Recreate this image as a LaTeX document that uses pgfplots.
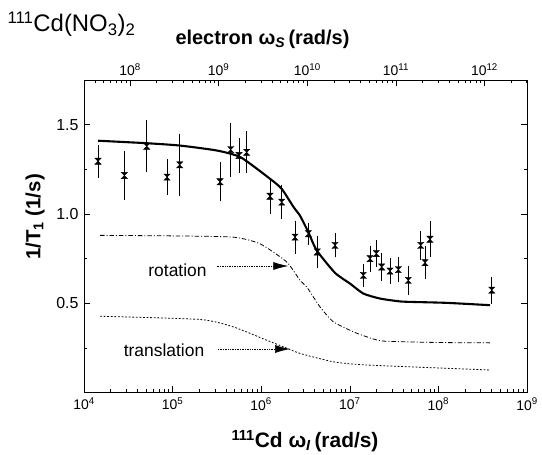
\documentclass[border=0pt]{standalone}
\usepackage{fontspec}
\setmainfont{Liberation Sans}
\usepackage{pgfplots}
\usepackage{pgfplotstable}
\pgfplotsset{compat=1.18}
\usetikzlibrary{arrows.meta}
\pgfdeclareplotmark{hg}{%
 \pgfpathmoveto{\pgfqpoint{-\pgfplotmarksize}{\pgfplotmarksize}}%
 \pgfpathlineto{\pgfqpoint{\pgfplotmarksize}{\pgfplotmarksize}}%
 \pgfpathlineto{\pgfqpoint{-\pgfplotmarksize}{-\pgfplotmarksize}}%
 \pgfpathlineto{\pgfqpoint{\pgfplotmarksize}{-\pgfplotmarksize}}%
 \pgfpathclose\pgfusepathqfillstroke}

\pgfplotstableread{
x y e
14390 1.295 0.075
28510 1.215 0.12
51050 1.379 0.128
86500 1.206 0.083
120200 1.275 0.157
342800 1.180 0.093
452900 1.360 0.135
561000 1.327 0.080
685500 1.345 0.100
1256000 1.099 0.080
1702000 1.066 0.080
2404000 0.870 0.075
3404000 0.889 0.045
4295000 0.787 0.073
6808000 0.824 0.050
14220000 0.656 0.047
16900000 0.750 0.056
19910000 0.778 0.060
22910000 0.703 0.063
28440000 0.680 0.056
35320000 0.688 0.054
45710000 0.628 0.065
63100000 0.824 0.063
70630000 0.727 0.075
80350000 0.858 0.084
400000000 0.573 0.058
}\pts

\begin{document}
\begin{tikzpicture}
\path[use as bounding box] (-84bp,-62.5bp) rectangle (458bp,392.5bp);
\begin{axis}[at={(0,0)}, anchor=south west, scale only axis,
  width=443bp, height=312.5bp,
  xmode=log, xmin=1e4, xmax=1e9, ymin=0, ymax=1.75,
  xtick={1e4,1e5,1e6,1e7,1e8,1e9},
  xticklabels={10\textsuperscript{4},10\textsuperscript{5},10\textsuperscript{6},10\textsuperscript{7},10\textsuperscript{8},10\textsuperscript{9}},
  minor xtick={2e4,3e4,4e4,5e4,6e4,7e4,8e4,9e4,2e5,3e5,4e5,5e5,6e5,7e5,8e5,9e5,2e6,3e6,4e6,5e6,6e6,7e6,8e6,9e6,2e7,3e7,4e7,5e7,6e7,7e7,8e7,9e7,2e8,3e8,4e8,5e8,6e8,7e8,8e8,9e8},
  xtick pos=bottom, ytick pos=both,
  ytick={0.5,1,1.5}, yticklabels={0.5,1.0,1.5},
  minor ytick={0.25,0.75,1.25},
  tick align=inside, major tick length=6bp, minor tick length=3bp,
  every tick/.style={black, line width=0.6pt},
  axis line style={line width=0.9pt},
  xticklabel style={font=\fontsize{14}{14}\selectfont, yshift=-2bp},
  yticklabel style={font=\fontsize{16}{16}\selectfont, xshift=-2bp},
  clip=false,
]
\addplot[black, line width=2.1pt, smooth, tension=0.35] coordinates {
(14390,1.41) (51050,1.396) (120230,1.383) (316980,1.355) (587480,1.317)
(1256000,1.197) (1702000,1.141) (2307000,1.04) (2742000,0.99) (3404000,0.898)
(4227000,0.796) (6808000,0.67) (10050000,0.61) (14220000,0.554) (21930000,0.526)
(36900000,0.51) (52120000,0.507) (123900000,0.502) (381900000,0.489)};
\addplot[black, line width=0.8pt, dash pattern=on 4.5pt off 2pt on 1pt off 2pt, smooth, tension=0.35] coordinates {
(15170,0.880) (100000,0.877) (484200,0.870) (968300,0.833) (1941000,0.731)
(2742000,0.628) (3266000,0.591) (4613000,0.479) (6516000,0.396) (10960000,0.34)
(15490000,0.312) (23880000,0.288) (100000000,0.28) (381900000,0.278)};
\addplot[black, line width=0.8pt, dash pattern=on 1.8pt off 1.8pt, smooth, tension=0.35] coordinates {
(15170,0.427) (203700,0.409) (480800,0.368) (1153000,0.293) (1778000,0.256)
(2742000,0.219) (6516000,0.172) (15520000,0.154) (381900000,0.126)};
\addplot[only marks, mark=hg, mark size=3.1bp, black,
  error bars/.cd, y dir=both, y explicit,
  error bar style={line width=0.6pt, black},
  error mark options={black, mark size=3bp, line width=0.6pt}]
  table[x=x, y=y, y error=e]{\pts};
\end{axis}
\begin{axis}[at={(0,0)}, anchor=south west, scale only axis,
  width=443bp, height=312.5bp,
  xmode=log, xmin=3.02e7, xmax=3.02e12, ymin=0, ymax=1.75,
  axis x line*=top, axis y line=none,
  xtick={1e8,1e9,1e10,1e11,1e12},
  xticklabels={10\textsuperscript{8},10\textsuperscript{9},10\textsuperscript{10},10\textsuperscript{11},10\textsuperscript{12}},
  minor xtick={4e7,5e7,6e7,7e7,8e7,9e7,2e8,3e8,4e8,5e8,6e8,7e8,8e8,9e8,2e9,3e9,4e9,5e9,6e9,7e9,8e9,9e9,2e10,3e10,4e10,5e10,6e10,7e10,8e10,9e10,2e11,3e11,4e11,5e11,6e11,7e11,8e11,9e11,2e12,3e12},
  xtick align=inside, major tick length=6bp, minor tick length=3bp,
  every tick/.style={black, line width=0.6pt},
  axis line style={line width=0.9pt},
  tick label style={font=\fontsize{14}{14}\selectfont},
  xticklabel style={yshift=1bp},
]
\end{axis}
% titles and labels
\node[anchor=base west, font=\fontsize{24}{24}\selectfont] at (-80bp,360.5bp)
  {\textsuperscript{111}Cd(NO\textsubscript{3})\textsubscript{2}};
\node[anchor=base west, font=\fontsize{20}{20}\bfseries\selectfont] at (88bp,348bp)
  {electron ω\textsubscript{\textit{S}}\,(rad/s)};
\node[anchor=base, font=\fontsize{21}{21}\bfseries\selectfont] at (221bp,-55bp)
  {\textsuperscript{111}Cd ω\textsubscript{\textit{I}}\,(rad/s)};
\node[rotate=90, anchor=center, font=\fontsize{20.5}{20.5}\bfseries\selectfont] at (-49bp,175.5bp)
  {1/T\textsubscript{1} (1/s)};
% annotations
\node[font=\fontsize{17.5}{17.5}\selectfont] at (93.5bp,122.5bp) {rotation};
\draw[densely dotted, line width=0.7pt, -{Latex[length=15bp,width=8bp]}] (132.7bp,126.5bp) -- (204.3bp,126.5bp);
\node[font=\fontsize{17.5}{17.5}\selectfont] at (80bp,42.5bp) {translation};
\draw[densely dotted, line width=0.7pt, -{Latex[length=15bp,width=8bp]}] (134bp,43.5bp) -- (206bp,43.5bp);
\end{tikzpicture}
\end{document}
